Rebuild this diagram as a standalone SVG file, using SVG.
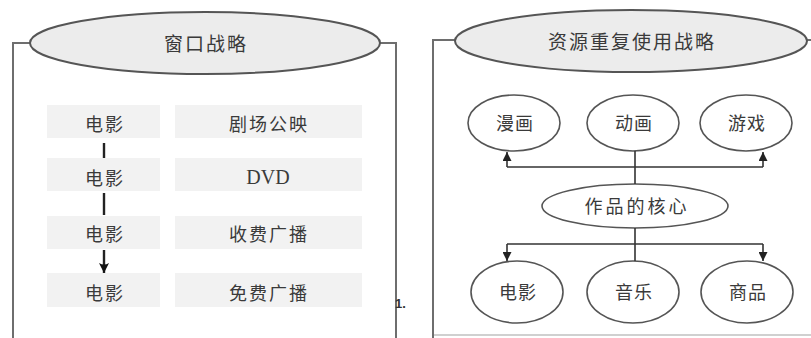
<svg xmlns="http://www.w3.org/2000/svg" width="811" height="338" viewBox="0 0 811 338">
<defs>
<style>
.frame{fill:none;stroke:#6e6e6e;stroke-width:2}
.big{fill:#ececec;stroke:#555;stroke-width:2}
.oval{fill:#fff;stroke:#555;stroke-width:1.6}
.cell{fill:#f2f2f2}
.t{font-family:"Noto Sans CJK SC","Noto Sans",sans-serif;fill:#3a3a3a;text-anchor:middle;font-size:18px}
.title{font-size:19px;letter-spacing:2px}
.serif{font-family:"Liberation Serif",serif;font-size:20px}
.ln{fill:none;stroke:#333;stroke-width:1.6}
.lnL{fill:none;stroke:#222;stroke-width:2.4}
</style>
<marker id="ah" viewBox="0 0 10 10" refX="10" refY="5" markerWidth="10" markerHeight="9" markerUnits="userSpaceOnUse" orient="auto">
<path d="M0,0 L10,5 L0,10 Z" fill="#222"/>
</marker>
<marker id="ahL" viewBox="0 0 10 10" refX="10" refY="5" markerWidth="10" markerHeight="10" markerUnits="userSpaceOnUse" orient="auto">
<path d="M0,0 L10,5 L0,10 Q3,5 0,0 Z" fill="#111"/>
</marker>
</defs>
<rect width="811" height="338" fill="#fff"/>

<g id="window-strategy">
<path class="frame" d="M13,338 V43 H30 M380,43 H396 V338"/>
<ellipse class="big" cx="205" cy="43" rx="175" ry="31"/>
<text class="t title" x="206" y="51">窗口战略</text>
</g>

<g id="row1">
<rect class="cell" x="47" y="105" width="113" height="33"/>
<rect class="cell" x="175" y="105" width="187" height="33"/>
<text class="t" x="105" y="131" letter-spacing="2">电影</text>
<text class="t" x="269" y="131" letter-spacing="2">剧场公映</text>
</g>
<g id="row2">
<rect class="cell" x="47" y="158" width="113" height="33"/>
<rect class="cell" x="175" y="158" width="187" height="33"/>
<text class="t" x="105" y="185" letter-spacing="2">电影</text>
<text class="t serif" x="268" y="184">DVD</text>
</g>
<g id="row3">
<rect class="cell" x="47" y="216" width="113" height="33"/>
<rect class="cell" x="175" y="216" width="187" height="33"/>
<text class="t" x="105" y="241" letter-spacing="2">电影</text>
<text class="t" x="269" y="241" letter-spacing="2">收费广播</text>
</g>
<g id="row4">
<rect class="cell" x="47" y="273" width="113" height="34"/>
<rect class="cell" x="175" y="273" width="187" height="34"/>
<text class="t" x="105" y="300" letter-spacing="2">电影</text>
<text class="t" x="269" y="300" letter-spacing="2">免费广播</text>
</g>

<text x="395" y="308" font-family="Liberation Sans,sans-serif" font-size="13" font-weight="bold" fill="#333">1.</text>

<g id="reuse-strategy">
<path class="frame" d="M433,338 V40 H455 M807,40 H811"/>
<path d="M434,335 H811" stroke="#d0d0d0" stroke-width="2"/>
<ellipse class="big" cx="631" cy="41" rx="176" ry="31"/>
<text class="t title" x="632" y="49">资源重复使用战略</text>
</g>

<g id="manga"><ellipse class="oval" cx="514" cy="123" rx="46" ry="28"/><text class="t" x="515" y="130" letter-spacing="1">漫画</text></g>
<g id="anime"><ellipse class="oval" cx="633" cy="123" rx="46" ry="28"/><text class="t" x="634" y="130" letter-spacing="1">动画</text></g>
<g id="game"><ellipse class="oval" cx="746" cy="123" rx="46" ry="28"/><text class="t" x="747" y="130" letter-spacing="1">游戏</text></g>
<g id="core"><ellipse class="oval" cx="635" cy="206" rx="93" ry="22"/><text class="t" x="637" y="213" letter-spacing="3">作品的核心</text></g>
<g id="film"><ellipse class="oval" cx="517" cy="292" rx="46" ry="31"/><text class="t" x="518" y="299" letter-spacing="1">电影</text></g>
<g id="music"><ellipse class="oval" cx="633" cy="292" rx="46" ry="31"/><text class="t" x="634" y="299" letter-spacing="1">音乐</text></g>
<g id="goods"><ellipse class="oval" cx="747" cy="292" rx="46" ry="31"/><text class="t" x="748" y="299" letter-spacing="1">商品</text></g>

<g id="connectors">
<path class="lnL" d="M104,143 V158"/>
<path class="lnL" d="M104,193 V215"/>
<path class="lnL" d="M104,250 V273" marker-end="url(#ahL)"/>
<path class="ln" d="M635,151 V184"/>
<path class="ln" d="M507,167 H763"/>
<path class="ln" d="M507,167 V152" marker-end="url(#ah)"/>
<path class="ln" d="M763,167 V152" marker-end="url(#ah)"/>
<path class="ln" d="M635,228 V261"/>
<path class="ln" d="M507,244 H763"/>
<path class="ln" d="M507,244 V261" marker-end="url(#ah)"/>
<path class="ln" d="M763,244 V261" marker-end="url(#ah)"/>
</g>
</svg>
